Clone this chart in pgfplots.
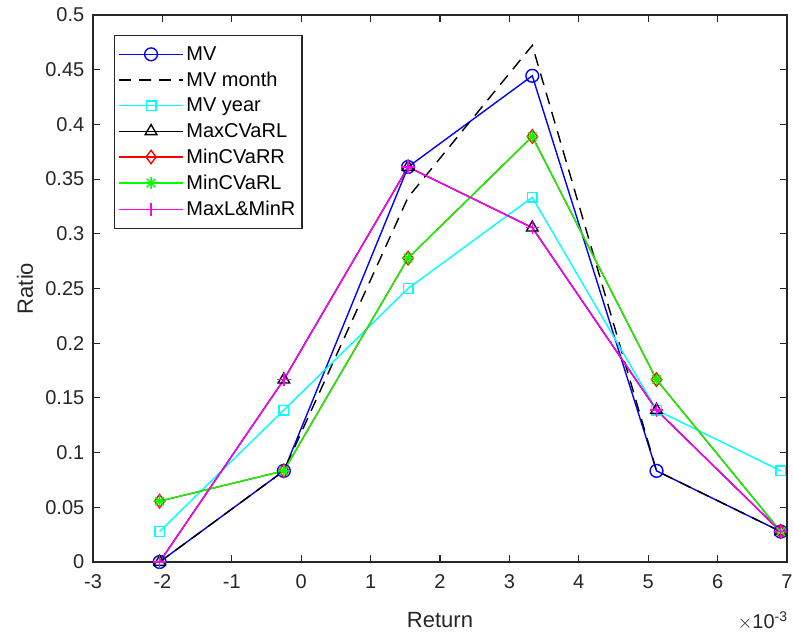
\documentclass[border=0pt]{standalone}
\usepackage{pgfplots}
\pgfplotsset{compat=1.18}
\usepackage{fontspec}
\setmainfont{Liberation Sans}

% eight-armed asterisk (plus and cross together)
\pgfdeclareplotmark{mstar}{%
  \pgfpathmoveto{\pgfqpoint{-\pgfplotmarksize}{0pt}}\pgfpathlineto{\pgfqpoint{\pgfplotmarksize}{0pt}}%
  \pgfpathmoveto{\pgfqpoint{0pt}{-\pgfplotmarksize}}\pgfpathlineto{\pgfqpoint{0pt}{\pgfplotmarksize}}%
  \pgfpathmoveto{\pgfqpoint{-0.707\pgfplotmarksize}{-0.707\pgfplotmarksize}}\pgfpathlineto{\pgfqpoint{0.707\pgfplotmarksize}{0.707\pgfplotmarksize}}%
  \pgfpathmoveto{\pgfqpoint{-0.707\pgfplotmarksize}{0.707\pgfplotmarksize}}\pgfpathlineto{\pgfqpoint{0.707\pgfplotmarksize}{-0.707\pgfplotmarksize}}%
  \pgfusepathqstroke}

\definecolor{axgray}{gray}{0.15}
\definecolor{cBlue}{rgb}{0,0,1}
\definecolor{cCyan}{rgb}{0,1,1}
\definecolor{cRed}{rgb}{1,0,0}
\definecolor{cGreen}{rgb}{0,1,0}
\definecolor{cMag}{rgb}{1,0,1}

\begin{document}
\begin{tikzpicture}
\begin{axis}[
  at={(0,0)}, anchor=south west,
  width=520.5pt, height=410.25pt, scale only axis,
  xmin=-3, xmax=7, ymin=0, ymax=0.5,
  xtick={-3,-2,...,7},
  xticklabels={-3,-2,-1,0,1,2,3,4,5,6,7},
  ytick={0,0.05,0.1,0.15,0.2,0.25,0.3,0.35,0.4,0.45,0.5},
  yticklabels={0,0.05,0.1,0.15,0.2,0.25,0.3,0.35,0.4,0.45,0.5},
  tick align=inside, major tick length=5pt,
  axis line style={axgray, line width=0.8pt},
  every tick/.style={axgray, line width=0.8pt},
  tick label style={font=\fontsize{15}{18}\selectfont, text=axgray},
  xticklabel style={yshift=-6pt},
  yticklabel style={xshift=-3pt},
  xlabel={Return}, ylabel={Ratio},
  label style={font=\fontsize{16.5}{20}\selectfont, text=axgray},
  xlabel style={at={(axis description cs:0.5,-0.106)}, anchor=center},
  ylabel style={at={(axis description cs:-0.098,0.5)}, anchor=center, rotate=0},
  legend cell align=left,
  legend style={at={(axis description cs:0.03,0.963)}, anchor=north west,
    font=\fontsize{15}{17}\selectfont, draw=axgray, line width=0.8pt,
    inner xsep=3pt, inner ysep=6pt, row sep=3.2pt},
  legend image code/.code={%
    \draw[mark repeat=2, mark phase=2, #1] plot coordinates {(0pt,0pt) (24pt,0pt) (48pt,0pt)};},
  every axis plot/.append style={line width=1.05pt},
  clip=false,
]
% MV
\addplot[cBlue, mark=o, mark size=4.8pt] coordinates {
  (-2.04,0) (-0.25,0.0833) (1.54,0.3611) (3.33,0.4444) (5.12,0.0833) (6.91,0.0278)};
\addlegendentry{MV}
% MV month
\addplot[black, dash pattern=on 9pt off 6pt] coordinates {
  (-2.04,0) (-0.25,0.0833) (1.54,0.3333) (3.33,0.4722) (5.12,0.0833) (6.91,0.0278)};
\addlegendentry{MV month}
% MV year
\addplot[cCyan, mark=square, mark size=3.6pt] coordinates {
  (-2.04,0.0278) (-0.25,0.1389) (1.54,0.25) (3.33,0.3333) (5.12,0.1389) (6.91,0.0833)};
\addlegendentry{MV year}
% MaxCVaRL
\addplot[black, mark=triangle, mark size=5pt] coordinates {
  (-2.04,0) (-0.25,0.1667) (1.54,0.3611) (3.33,0.3056) (5.12,0.1389) (6.91,0.0278)};
\addlegendentry{MaxCVaRL}
% MinCVaRR
\addplot[cRed, mark=diamond, mark size=5pt] coordinates {
  (-2.04,0.0556) (-0.25,0.0833) (1.54,0.2778) (3.33,0.3889) (5.12,0.1667) (6.91,0.0278)};
\addlegendentry{MinCVaRR}
% MinCVaRL
\addplot[cGreen, mark=mstar, mark size=4.5pt] coordinates {
  (-2.04,0.0556) (-0.25,0.0833) (1.54,0.2778) (3.33,0.3889) (5.12,0.1667) (6.91,0.0278)};
\addlegendentry{MinCVaRL}
% MaxL&MinR
\addplot[cMag, mark=+, mark size=5pt] coordinates {
  (-2.04,0) (-0.25,0.1667) (1.54,0.3611) (3.33,0.3056) (5.12,0.1389) (6.91,0.0278)};
\addlegendentry{MaxL\&MinR}
\node[font=\fontsize{15}{18}\selectfont, text=axgray, anchor=center]
  at (axis description cs:0.965,-0.108) {$\times$10\textsuperscript{-3}};
\end{axis}
\pgfresetboundingbox
\path (-69.75pt,-54pt) rectangle (525pt,421.5pt);
\end{tikzpicture}
\end{document}
